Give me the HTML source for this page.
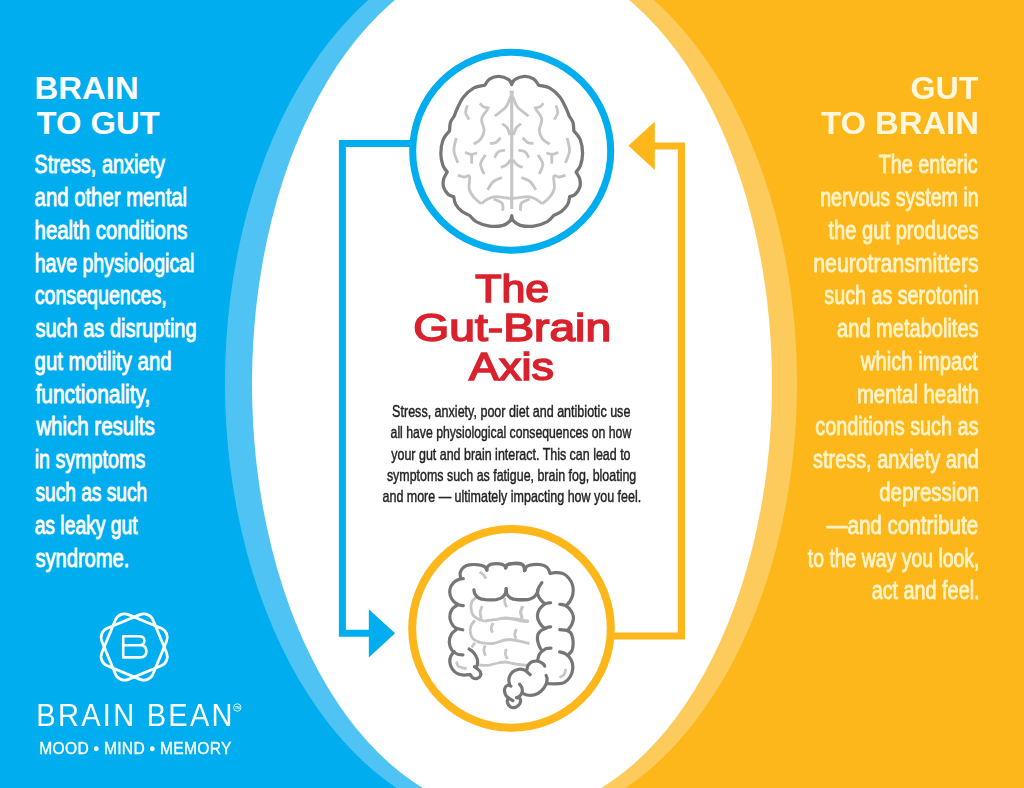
<!DOCTYPE html>
<html>
<head>
<meta charset="utf-8">
<title>The Gut-Brain Axis</title>
<style>
html,body{margin:0;padding:0;background:#fff;}
body{width:1024px;height:788px;overflow:hidden;font-family:"Liberation Sans",sans-serif;}
svg{display:block;}
text{font-family:"Liberation Sans",sans-serif;}
#tleft,#tright,#tcenter,#logo{opacity:.999;}
.lb{fill:#fff;font-size:25.8px;stroke:#fff;stroke-width:.8px;vector-effect:non-scaling-stroke;}
.rb{fill:#FFF3C9;font-size:25.8px;stroke:#FFF3C9;stroke-width:.8px;vector-effect:non-scaling-stroke;}
.cb{fill:#231f20;font-size:15.9px;stroke:#231f20;stroke-width:.4px;vector-effect:non-scaling-stroke;}
.hd{font-weight:bold;font-size:31.8px;}
.hl{fill:#fff;}
.hr{fill:#FFF7DF;}
.tt{font-size:38.6px;fill:#D9222D;stroke:#D9222D;stroke-width:1.6px;stroke-linejoin:miter;}
</style>
</head>
<body>
<svg width="1024" height="788" viewBox="0 0 1024 788">
<!-- BACKGROUND -->
<rect x="0" y="0" width="512" height="788" fill="#00ADEE"/>
<rect x="512" y="0" width="512" height="788" fill="#FDB71A"/>
<clipPath id="cl"><rect x="0" y="0" width="512" height="788"/></clipPath>
<clipPath id="cr"><rect x="512" y="0" width="512" height="788"/></clipPath>
<ellipse cx="511" cy="383" rx="286" ry="442" fill="#4FC4F4" clip-path="url(#cl)"/>
<ellipse cx="511" cy="383" rx="286" ry="442" fill="#FDCB5C" clip-path="url(#cr)"/>
<ellipse cx="512" cy="384" rx="260" ry="430" fill="#fff"/>
<!-- CONNECTORS -->
<g id="connectors">
<path d="M412 143.5 H342.4 V633.2 H370" fill="none" stroke="#00ADEE" stroke-width="7" stroke-linejoin="miter"/>
<path d="M368.8 609.2 L395.1 633.3 L368.8 657.5 Z" fill="#00ADEE"/>
<path d="M612 636 H681.4 V146 H653" fill="none" stroke="#FDB71A" stroke-width="7.2" stroke-linejoin="miter"/>
<path d="M654.8 121.6 L628.4 145.8 L654.8 170.1 Z" fill="#FDB71A"/>
</g>
<!-- CIRCLES -->
<g id="circles">
<circle cx="511.7" cy="151.2" r="99" fill="#fff" stroke="#00ADEE" stroke-width="7"/>
<circle cx="511.5" cy="628.4" r="99.3" fill="#fff" stroke="#FDB71A" stroke-width="8"/>
</g>
<!-- BRAIN -->
<g id="brain" transform="translate(436 70) scale(0.2082)" fill="none" stroke-linecap="round" stroke-linejoin="round">
<path d="M363.6 70.0 C366.0 66.0 367.8 52.5 378.0 46.0 C388.2 39.5 409.7 31.3 425.0 31.0 C440.3 30.7 458.7 37.0 470.0 44.0 C481.3 51.0 489.2 68.2 493.0 73.0 C501.7 75.2 528.0 76.5 545.0 86.0 C562.0 95.5 581.7 113.5 595.0 130.0 C608.3 146.5 617.5 169.7 625.0 185.0 C632.5 200.3 637.5 215.8 640.0 222.0 C643.0 227.0 654.3 240.3 658.0 252.0 C661.7 263.7 661.3 285.3 662.0 292.0 C667.2 299.2 686.0 317.0 693.0 335.0 C700.0 353.0 703.8 379.5 704.0 400.0 C704.2 420.5 699.2 443.0 694.0 458.0 C688.8 473.0 676.5 484.7 673.0 490.0 C675.8 495.3 687.0 510.0 690.0 522.0 C693.0 534.0 694.7 549.3 691.0 562.0 C687.3 574.7 676.2 590.3 668.0 598.0 C659.8 605.7 646.3 606.3 642.0 608.0 C640.5 614.2 639.7 633.0 633.0 645.0 C626.3 657.0 613.2 671.2 602.0 680.0 C590.8 688.8 572.0 695.0 566.0 698.0 C560.8 703.0 551.0 719.3 535.0 728.0 C519.0 736.7 491.7 747.0 470.0 750.0 C448.3 753.0 421.3 750.2 405.0 746.0 C388.7 741.8 378.9 732.7 372.0 725.0 C365.1 717.3 365.0 704.2 363.6 700.0 C362.2 704.2 362.1 717.3 355.2 725.0 C348.3 732.7 338.5 741.8 322.2 746.0 C305.9 750.2 278.9 753.0 257.2 750.0 C235.5 747.0 208.2 736.7 192.2 728.0 C176.2 719.3 166.4 703.0 161.2 698.0 C155.2 695.0 136.4 688.8 125.2 680.0 C114.0 671.2 100.9 657.0 94.2 645.0 C87.5 633.0 86.7 614.2 85.2 608.0 C80.9 606.3 67.4 605.7 59.2 598.0 C51.0 590.3 39.9 574.7 36.2 562.0 C32.5 549.3 34.2 534.0 37.2 522.0 C40.2 510.0 51.4 495.3 54.2 490.0 C50.7 484.7 38.4 473.0 33.2 458.0 C28.0 443.0 23.0 420.5 23.2 400.0 C23.4 379.5 27.2 353.0 34.2 335.0 C41.2 317.0 60.0 299.2 65.2 292.0 C65.9 285.3 65.5 263.7 69.2 252.0 C72.9 240.3 84.2 227.0 87.2 222.0 C89.7 215.8 94.7 200.3 102.2 185.0 C109.7 169.7 118.9 146.5 132.2 130.0 C145.5 113.5 165.2 95.5 182.2 86.0 C199.2 76.5 225.5 75.2 234.2 73.0 C238.0 68.2 245.9 51.0 257.2 44.0 C268.5 37.0 286.9 30.7 302.2 31.0 C317.5 31.3 339.0 39.5 349.2 46.0 C359.4 52.5 361.2 66.0 363.6 70.0 Z" fill="#fff" stroke="#767676" stroke-width="15.5"/>
<g stroke="#c6c6c6" stroke-linecap="butt">
<path d="M363.6 112 V668" stroke-width="15" stroke-linecap="butt"/>
<path d="M352.6 100 L374.6 100 L369.6 150 L357.6 150 Z" fill="#c6c6c6" stroke="none"/>
<path d="M369.0 128.0 C372.8 136.3 379.3 162.5 392.0 178.0 C404.7 193.5 436.2 213.8 445.0 221.0 " stroke-width="13.5"/>
<path d="M358.2 128.0 C354.4 136.3 347.9 162.5 335.2 178.0 C322.5 193.5 291.0 213.8 282.2 221.0 " stroke-width="13.5"/>
<path d="M470.0 182.0 C474.7 181.3 490.3 181.7 498.0 178.0 C505.7 174.3 513.0 163.0 516.0 160.0 " stroke-width="13.5"/>
<path d="M257.2 182.0 C252.5 181.3 236.9 181.7 229.2 178.0 C221.5 174.3 214.2 163.0 211.2 160.0 " stroke-width="13.5"/>
<path d="M478.0 188.0 C483.0 195.8 505.0 218.0 508.0 235.0 C511.0 252.0 495.3 273.8 496.0 290.0 C496.7 306.2 503.7 321.0 512.0 332.0 C520.3 343.0 540.3 352.0 546.0 356.0 " stroke-width="13.5"/>
<path d="M249.2 188.0 C244.2 195.8 222.2 218.0 219.2 235.0 C216.2 252.0 231.9 273.8 231.2 290.0 C230.5 306.2 223.5 321.0 215.2 332.0 C206.9 343.0 186.9 352.0 181.2 356.0 " stroke-width="13.5"/>
<path d="M576.0 170.0 C577.5 175.8 586.3 193.7 585.0 205.0 C583.7 216.3 570.8 232.5 568.0 238.0 " stroke-width="13.5"/>
<path d="M151.2 170.0 C149.7 175.8 140.9 193.7 142.2 205.0 C143.5 216.3 156.4 232.5 159.2 238.0 " stroke-width="13.5"/>
<path d="M409.0 258.0 C405.0 261.3 391.2 269.0 385.0 278.0 C378.8 287.0 374.2 306.3 372.0 312.0 " stroke-width="13.5"/>
<path d="M318.2 258.0 C322.2 261.3 336.0 269.0 342.2 278.0 C348.4 287.0 353.0 306.3 355.2 312.0 " stroke-width="13.5"/>
<path d="M416.0 326.0 C420.0 329.7 431.3 343.5 440.0 348.0 C448.7 352.5 463.3 352.2 468.0 353.0 " stroke-width="13.5"/>
<path d="M311.2 326.0 C307.2 329.7 295.9 343.5 287.2 348.0 C278.5 352.5 263.9 352.2 259.2 353.0 " stroke-width="13.5"/>
<path d="M396.0 385.0 C401.3 386.3 419.7 387.0 428.0 393.0 C436.3 399.0 443.0 416.3 446.0 421.0 " stroke-width="13.5"/>
<path d="M331.2 385.0 C325.9 386.3 307.5 387.0 299.2 393.0 C290.9 399.0 284.2 416.3 281.2 421.0 " stroke-width="13.5"/>
<path d="M370.0 432.0 C373.0 435.8 380.3 449.0 388.0 455.0 C395.7 461.0 411.3 465.8 416.0 468.0 " stroke-width="13.5"/>
<path d="M357.2 432.0 C354.2 435.8 346.9 449.0 339.2 455.0 C331.5 461.0 315.9 465.8 311.2 468.0 " stroke-width="13.5"/>
<path d="M490.0 408.0 C493.8 415.3 512.0 436.7 513.0 452.0 C514.0 467.3 498.8 492.0 496.0 500.0 " stroke-width="13.5"/>
<path d="M237.2 408.0 C233.4 415.3 215.2 436.7 214.2 452.0 C213.2 467.3 228.4 492.0 231.2 500.0 " stroke-width="13.5"/>
<path d="M530.0 398.0 C535.0 399.2 550.3 405.5 560.0 405.0 C569.7 404.5 583.3 396.7 588.0 395.0 " stroke-width="13.5"/>
<path d="M197.2 398.0 C192.2 399.2 176.9 405.5 167.2 405.0 C157.5 404.5 143.9 396.7 139.2 395.0 " stroke-width="13.5"/>
<path d="M556.0 403.0 C556.0 410.8 556.0 442.2 556.0 450.0 " stroke-width="13.5"/>
<path d="M171.2 403.0 C171.2 410.8 171.2 442.2 171.2 450.0 " stroke-width="13.5"/>
<path d="M630.0 326.0 C631.8 336.3 642.3 368.0 641.0 388.0 C639.7 408.0 625.2 436.3 622.0 446.0 " stroke-width="13.5"/>
<path d="M97.2 326.0 C95.4 336.3 84.9 368.0 86.2 388.0 C87.5 408.0 102.0 436.3 105.2 446.0 " stroke-width="13.5"/>
<path d="M410.0 516.0 C417.0 519.3 440.3 526.0 452.0 536.0 C463.7 546.0 475.3 569.3 480.0 576.0 " stroke-width="13.5"/>
<path d="M317.2 516.0 C310.2 519.3 286.9 526.0 275.2 536.0 C263.5 546.0 251.9 569.3 247.2 576.0 " stroke-width="13.5"/>
<path d="M622.0 505.0 C617.0 506.5 601.3 513.0 592.0 514.0 C582.7 515.0 570.0 501.7 566.0 511.0 C562.0 520.3 571.5 553.2 568.0 570.0 C564.5 586.8 554.7 600.0 545.0 612.0 C535.3 624.0 515.8 637.0 510.0 642.0 " stroke-width="13.5"/>
<path d="M105.2 505.0 C110.2 506.5 125.9 513.0 135.2 514.0 C144.5 515.0 157.2 501.7 161.2 511.0 C165.2 520.3 155.7 553.2 159.2 570.0 C162.7 586.8 172.5 600.0 182.2 612.0 C191.9 624.0 211.4 637.0 217.2 642.0 " stroke-width="13.5"/>
<path d="M366.0 618.0 C378.3 616.3 421.3 607.7 440.0 608.0 C458.7 608.3 466.3 614.3 478.0 620.0 C489.7 625.7 504.7 638.3 510.0 642.0 " stroke-width="13.5"/>
<path d="M361.2 618.0 C348.9 616.3 305.9 607.7 287.2 608.0 C268.5 608.3 260.9 614.3 249.2 620.0 C237.5 625.7 222.5 638.3 217.2 642.0 " stroke-width="13.5"/>
<path d="M406.0 676.0 C406.7 670.0 402.7 649.3 410.0 640.0 C417.3 630.7 443.3 623.3 450.0 620.0 " stroke-width="13.5"/>
<path d="M321.2 676.0 C320.5 670.0 324.5 649.3 317.2 640.0 C309.9 630.7 283.9 623.3 277.2 620.0 " stroke-width="13.5"/>
</g></g>
<!-- GUT -->
<g id="gut" fill="none" stroke-linecap="round" stroke-linejoin="round">
<g stroke="#c6c6c6" stroke-width="2.8" stroke-linecap="butt">
<path d="M479.7 572.0 C480.3 572.5 482.5 573.8 483.5 574.9 C484.6 576.0 485.5 578.1 485.9 578.7 "/>
<path d="M475.8 597.5 C475.2 598.2 472.8 599.6 472.0 601.4 C471.2 603.2 470.8 605.9 471.0 608.1 C471.2 610.4 471.8 613.1 472.9 614.9 C474.1 616.7 475.8 617.7 477.8 618.8 C479.7 619.8 483.4 620.8 484.5 621.2 "/>
<path d="M484.5 621.2 C486.1 620.9 490.6 620.2 494.1 619.7 C497.7 619.2 502.2 618.1 505.7 618.0 C509.3 617.9 511.6 618.4 515.4 618.9 C519.1 619.5 525.9 620.8 528.0 621.2 "/>
<path d="M500.0 618.3 C501.9 618.4 507.9 618.3 511.6 618.8 C515.3 619.2 519.3 620.8 522.2 621.2 C525.1 621.6 527.8 621.2 528.9 621.2 "/>
<path d="M482.1 606.2 C481.8 607.2 480.3 609.9 480.2 612.0 C480.0 614.1 481.0 617.6 481.1 618.8 "/>
<path d="M504.8 598.0 C504.8 598.7 504.4 600.8 504.8 602.4 C505.1 603.9 506.4 606.4 506.7 607.2 "/>
<path d="M522.6 606.2 C522.3 607.2 520.7 609.9 520.7 612.0 C520.6 614.1 521.9 617.6 522.1 618.8 "/>
<path d="M522.7 606.2 C522.3 607.2 520.8 609.9 520.7 612.0 C520.7 614.1 521.9 617.6 522.2 618.8 "/>
<path d="M474.9 620.4 C474.3 621.3 471.6 623.9 470.9 626.1 C470.1 628.2 470.0 631.0 470.5 633.2 C470.9 635.4 471.8 637.7 473.5 639.3 C475.2 640.9 479.4 642.2 480.6 642.7 "/>
<path d="M480.6 642.7 C482.6 642.9 488.1 644.1 492.8 643.5 C497.5 643.0 503.0 639.5 509.0 639.5 C515.1 639.5 526.0 642.9 529.4 643.5 "/>
<path d="M493.2 623.0 C492.9 623.8 491.3 626.1 491.2 627.7 C491.0 629.3 492.2 631.8 492.4 632.6 "/>
<path d="M516.4 629.1 C516.1 630.0 514.8 632.6 514.7 634.2 C514.7 635.8 515.8 637.9 516.0 638.7 "/>
<path d="M474.9 642.7 C474.4 643.5 472.2 646.6 471.7 647.4 "/>
<path d="M485.1 645.4 C484.9 646.2 483.8 648.7 483.9 650.5 C483.9 652.2 485.2 654.9 485.5 655.7 "/>
<path d="M506.2 648.8 C506.1 649.7 505.2 652.4 505.4 654.1 C505.6 655.8 507.1 658.2 507.4 659.0 "/>
<path d="M479.2 664.9 C480.6 665.0 484.3 665.7 487.4 665.4 C490.5 665.1 494.9 663.6 498.0 663.0 C501.1 662.4 502.8 661.9 505.7 662.0 C508.6 662.2 511.8 663.4 515.4 664.0 C518.9 664.5 525.0 665.2 526.9 665.4 "/>
<path d="M456.5 661.6 C456.9 662.4 456.8 665.2 458.5 666.4 C460.2 667.6 465.3 668.4 466.7 668.8 "/>
<path d="M565.9 668.8 C565.6 669.8 565.0 673.1 564.0 674.6 C562.9 676.1 560.4 677.1 559.6 677.7 "/>
</g><g stroke="#767676" stroke-width="3.2">
<path d="M460.6 577.8 C460.5 576.9 459.8 574.2 460.2 572.5 C460.7 570.8 461.8 568.9 463.3 567.6 C464.8 566.4 466.5 565.4 469.1 564.9 C471.6 564.5 476.1 564.5 478.7 564.8 C481.3 565.0 483.1 565.8 484.5 566.7 C485.9 567.6 486.5 569.5 486.9 570.1 "/>
<path d="M486.9 570.1 C487.0 569.5 486.9 567.7 487.6 566.7 C488.3 565.7 489.2 564.6 491.3 564.1 C493.3 563.6 497.8 563.5 499.9 563.8 C502.1 564.0 503.3 564.8 504.3 565.5 C505.2 566.2 505.5 567.5 505.7 567.8 "/>
<path d="M505.7 567.8 C506.0 567.3 506.4 565.5 507.6 564.8 C508.9 564.0 511.2 563.7 513.4 563.6 C515.7 563.5 519.4 563.5 521.1 564.0 C522.9 564.5 523.4 565.5 524.0 566.5 C524.7 567.5 525.0 569.5 525.2 570.1 "/>
<path d="M505.5 567.8 C505.8 567.3 505.9 565.3 507.2 564.6 C508.6 563.8 511.3 563.5 513.5 563.3 C515.8 563.1 519.0 563.1 520.7 563.6 C522.4 564.1 523.0 565.0 523.6 566.2 C524.3 567.4 524.4 569.8 524.6 570.5 "/>
<path d="M524.6 570.5 C525.0 569.8 525.6 567.3 527.0 566.3 C528.4 565.3 530.4 564.8 532.8 564.6 C535.2 564.3 539.1 564.2 541.5 564.8 C543.9 565.3 545.8 566.2 547.3 567.6 C548.7 569.1 549.7 572.5 550.1 573.4 "/>
<path d="M550.1 573.4 C550.9 573.3 552.9 572.7 555.0 572.7 C557.1 572.7 560.4 572.5 562.7 573.4 C565.0 574.4 567.3 576.2 568.9 578.3 C570.6 580.3 572.2 583.2 572.8 586.0 C573.4 588.7 573.3 592.1 572.8 594.6 C572.3 597.2 571.0 599.5 569.9 601.4 C568.8 603.2 566.7 605.0 566.1 605.7 "/>
<path d="M559.8 604.3 C560.8 604.5 563.7 604.7 565.6 605.7 C567.4 606.8 569.6 608.6 570.9 610.6 C572.2 612.5 573.3 615.0 573.5 617.3 C573.6 619.6 572.8 622.3 571.8 624.5 C570.8 626.7 568.2 629.5 567.5 630.5 "/>
<path d="M541.9 582.6 C541.4 583.5 539.3 586.0 538.6 587.9 C537.8 589.7 537.3 591.8 537.6 593.7 C537.9 595.6 539.3 597.8 540.5 599.5 C541.7 601.1 543.6 602.9 544.8 603.5 C546.0 604.1 546.8 603.1 547.7 603.0 C548.7 602.9 550.1 602.9 550.6 602.8 "/>
<path d="M544.6 604.1 C543.7 604.9 540.7 607.1 539.5 609.1 C538.3 611.1 537.4 613.6 537.4 615.9 C537.4 618.1 538.4 620.6 539.5 622.6 C540.7 624.6 543.0 627.2 544.4 628.0 C545.7 628.8 546.7 627.4 547.7 627.2 C548.8 627.1 550.1 627.0 550.6 626.9 "/>
<path d="M473.9 589.8 C474.1 590.5 474.1 592.5 474.9 593.9 C475.7 595.2 476.9 597.1 478.7 598.0 C480.5 599.0 482.6 599.4 485.5 599.7 C488.4 599.9 493.3 600.0 496.1 599.7 C498.8 599.3 500.3 598.5 501.9 597.5 C503.4 596.5 504.5 595.2 505.2 593.7 C506.0 592.2 506.0 589.5 506.2 588.7 "/>
<path d="M506.2 588.7 C506.3 589.5 506.2 592.3 506.9 593.9 C507.6 595.4 508.8 597.1 510.5 598.0 C512.3 599.0 514.4 599.4 517.3 599.7 C520.2 599.9 526.2 599.7 528.0 599.7 "/>
<path d="M517.4 599.7 C519.1 599.6 525.2 599.9 528.0 599.5 C530.7 599.0 532.2 598.1 533.8 597.1 C535.3 596.0 536.4 594.1 537.1 592.9 C537.8 591.7 537.8 590.3 537.9 589.8 "/>
<path d="M463.3 578.7 C462.6 578.8 461.0 578.6 459.4 579.2 C457.8 579.9 455.2 581.0 453.6 582.6 C452.1 584.2 450.5 586.7 450.0 588.9 C449.4 591.0 449.7 593.5 450.3 595.6 C450.9 597.7 452.3 599.9 453.6 601.4 C455.0 602.9 456.9 604.0 458.5 604.8 C460.1 605.5 462.5 605.6 463.3 605.7 "/>
<path d="M457.0 605.3 C456.2 605.9 453.4 607.3 452.2 609.1 C451.0 610.9 449.9 613.6 449.8 615.9 C449.6 618.1 450.3 620.6 451.2 622.6 C452.2 624.6 453.6 626.7 455.6 627.9 C457.5 629.1 461.6 629.5 462.8 629.8 "/>
<path d="M456.2 629.7 C455.4 630.5 452.3 632.5 451.2 634.6 C450.0 636.7 449.2 639.8 449.3 642.3 C449.4 644.9 450.5 648.1 451.8 650.0 C453.1 652.0 455.4 653.3 457.3 654.1 C459.1 654.9 462.0 654.8 462.9 654.9 "/>
<path d="M454.1 651.4 C453.6 652.2 451.5 654.5 450.8 656.3 C450.0 658.0 449.5 659.9 449.8 662.0 C450.0 664.1 450.9 666.9 452.2 668.8 C453.5 670.7 455.5 672.6 457.5 673.6 C459.5 674.7 462.2 674.9 464.3 675.1 C466.3 675.2 469.1 674.7 470.0 674.6 "/>
<path d="M470.0 674.6 C470.5 675.1 471.7 677.3 472.9 677.9 C474.1 678.6 476.0 678.8 477.3 678.4 C478.6 678.0 480.2 676.7 480.6 675.5 C481.1 674.4 480.7 672.8 480.2 671.7 C479.6 670.6 478.2 669.6 477.3 668.8 C476.3 668.0 474.9 667.0 474.4 666.7 "/>
<path d="M469.1 649.0 C469.9 649.7 472.5 651.2 473.9 652.9 C475.3 654.6 476.7 657.1 477.3 659.1 C477.8 661.2 477.5 663.6 477.3 664.9 C477.0 666.3 476.1 666.9 475.8 667.3 "/>
<path d="M559.8 629.7 C561.0 629.9 565.1 630.0 566.9 630.5 C568.8 631.1 570.0 631.8 571.0 633.2 C572.0 634.6 572.4 637.0 572.8 638.9 C573.1 640.8 573.3 642.8 573.1 644.7 C573.0 646.6 572.8 648.8 572.0 650.5 C571.2 652.2 568.9 654.1 568.3 654.8 "/>
<path d="M546.4 628.1 C545.4 628.6 541.8 629.8 540.3 631.2 C538.8 632.5 537.8 633.9 537.5 636.0 C537.1 638.1 537.6 641.3 538.4 643.7 C539.2 646.1 541.0 649.7 542.3 650.5 C543.6 651.3 544.7 648.9 546.1 648.5 C547.6 648.1 550.2 648.1 551.0 648.1 "/>
<path d="M559.6 651.9 C560.6 652.2 563.5 652.5 565.4 653.8 C567.4 655.2 570.0 657.8 571.2 660.1 C572.5 662.4 573.0 665.1 572.9 667.8 C572.7 670.6 571.7 674.1 570.3 676.5 C568.9 678.9 566.4 681.1 564.5 682.3 C562.5 683.5 561.5 683.5 558.7 683.7 C555.9 684.0 549.4 683.7 547.6 683.7 "/>
<path d="M542.5 650.7 C541.9 651.3 540.0 653.3 539.2 654.8 C538.4 656.3 537.9 659.1 537.7 659.9 "/>
<path d="M526.9 669.8 C527.1 668.9 527.3 666.3 528.3 664.9 C529.3 663.6 531.0 662.2 532.6 661.6 C534.3 660.9 536.7 660.9 538.4 661.3 C540.2 661.7 542.2 663.2 543.3 664.0 C544.3 664.8 544.5 665.7 544.7 666.1 "/>
<path d="M509.5 684.2 C509.4 683.3 508.5 680.4 509.0 678.4 C509.5 676.4 510.8 673.7 512.4 672.2 C514.0 670.6 516.6 669.6 518.7 669.3 C520.8 668.9 523.3 669.6 524.9 670.2 C526.5 670.9 527.4 672.4 528.3 673.1 C529.2 673.8 529.9 674.3 530.2 674.6 "/>
<path d="M510.9 686.1 C510.4 686.0 508.6 684.8 507.6 685.2 C506.5 685.6 505.1 687.1 504.7 688.6 C504.3 690.0 504.6 692.3 505.2 693.9 C505.7 695.4 506.8 696.6 508.1 697.7 C509.3 698.8 512.1 700.1 512.9 700.6 "/>
<path d="M508.1 697.7 C507.9 698.5 507.0 701.0 507.4 702.5 C507.8 704.1 509.1 706.1 510.5 706.9 C511.8 707.7 513.8 707.8 515.3 707.4 C516.8 706.9 518.8 705.4 519.6 704.0 C520.4 702.5 520.6 699.7 520.1 698.7 C519.6 697.6 517.3 697.9 516.7 697.7 "/>
<path d="M519.6 684.2 C520.0 684.9 521.6 686.6 522.0 688.1 C522.4 689.5 522.4 691.5 522.0 692.9 C521.6 694.3 520.5 695.5 519.6 696.3 C518.7 697.1 517.2 697.5 516.7 697.7 "/>
<path d="M522.0 692.9 C522.8 693.2 524.8 694.7 526.9 695.0 C528.9 695.3 532.2 695.5 534.6 694.8 C537.0 694.1 539.4 692.7 541.3 691.0 C543.3 689.2 545.2 686.3 546.1 684.2 C547.1 682.1 547.1 679.9 547.1 678.4 C547.1 677.0 546.3 676.0 546.1 675.5 "/>
</g></g>
<!-- TEXT-LEFT -->
<g id="tleft">
<text class="lb" transform="translate(34.33 173.40) scale(0.7731 1)">Stress, anxiety</text>
<text class="lb" transform="translate(34.61 206.16) scale(0.7880 1)">and other mental</text>
<text class="lb" transform="translate(34.61 238.92) scale(0.7897 1)">health conditions</text>
<text class="lb" transform="translate(34.64 271.68) scale(0.7584 1)">have physiological</text>
<text class="lb" transform="translate(34.64 304.44) scale(0.7619 1)">consequences,</text>
<text class="lb" transform="translate(35.40 337.20) scale(0.7755 1)">such as disrupting</text>
<text class="lb" transform="translate(34.61 369.96) scale(0.7894 1)">gut motility and</text>
<text class="lb" transform="translate(35.40 402.72) scale(0.8126 1)">functionality,</text>
<text class="lb" transform="translate(36.20 435.48) scale(0.7956 1)">which results</text>
<text class="lb" transform="translate(34.64 468.24) scale(0.7650 1)">in symptoms</text>
<text class="lb" transform="translate(35.40 501.00) scale(0.7432 1)">such as such</text>
<text class="lb" transform="translate(34.65 533.76) scale(0.7480 1)">as leaky gut</text>
<text class="lb" transform="translate(35.40 566.52) scale(0.7805 1)">syndrome.</text>
<text class="hd hl" transform="translate(34.53 98.50) scale(1.0349 1)">BRAIN</text>
<text class="hd hl" transform="translate(36.60 133.70) scale(1.0307 1)">TO GUT</text>
</g>
<!-- TEXT-RIGHT -->
<g id="tright">
<text class="rb" transform="translate(878.60 173.40) scale(0.7689 1)">The enteric</text>
<text class="rb" transform="translate(820.14 206.16) scale(0.7638 1)">nervous system in</text>
<text class="rb" transform="translate(828.40 238.92) scale(0.7816 1)">the gut produces</text>
<text class="rb" transform="translate(813.28 271.68) scale(0.8239 1)">neurotransmitters</text>
<text class="rb" transform="translate(824.30 304.44) scale(0.7648 1)">such as serotonin</text>
<text class="rb" transform="translate(837.12 337.20) scale(0.7768 1)">and metabolites</text>
<text class="rb" transform="translate(860.79 369.96) scale(0.7863 1)">which impact</text>
<text class="rb" transform="translate(856.91 402.72) scale(0.7880 1)">mental health</text>
<text class="rb" transform="translate(815.23 435.48) scale(0.7697 1)">conditions such as</text>
<text class="rb" transform="translate(813.10 468.24) scale(0.7711 1)">stress, anxiety and</text>
<text class="rb" transform="translate(879.21 501.00) scale(0.7904 1)">depression</text>
<text class="rb" transform="translate(826.80 533.76) scale(0.7997 1)">—and contribute</text>
<text class="rb" transform="translate(807.80 566.52) scale(0.7532 1)">to the way you look,</text>
<text class="rb" transform="translate(871.63 599.28) scale(0.7679 1)">act and feel.</text>
<text class="hd hr" transform="translate(910.39 98.50) scale(1.0121 1)">GUT</text>
<text class="hd hr" transform="translate(821.10 133.70) scale(1.0309 1)">TO BRAIN</text>
</g>
<!-- TEXT-CENTER -->
<g id="tcenter">
<text class="cb" transform="translate(392.10 417.30) scale(0.7898 1)">Stress, anxiety, poor diet and antibiotic use</text>
<text class="cb" transform="translate(390.60 438.40) scale(0.7700 1)">all have physiological consequences on how</text>
<text class="cb" transform="translate(391.30 459.50) scale(0.7842 1)">your gut and brain interact. This can lead to</text>
<text class="cb" transform="translate(386.90 480.60) scale(0.7817 1)">symptoms such as fatigue, brain fog, bloating</text>
<text class="cb" transform="translate(382.50 501.70) scale(0.7856 1)">and more — ultimately impacting how you feel.</text>
<text class="tt" transform="translate(475.20 302.00) scale(1.1120 1)">The</text>
<text class="tt" transform="translate(413.20 340.80) scale(1.1984 1)">Gut-Brain</text>
<text class="tt" transform="translate(469.10 379.70) scale(1.1622 1)">Axis</text>
</g>
<!-- LOGO -->
<g id="logo">
<g fill="none" stroke="#fff" stroke-width="2.8">
<rect x="-27.7" y="-27.7" width="55.4" height="55.4" rx="10" ry="10" transform="translate(134.2 647) rotate(22.5)"/>
<rect x="-27.7" y="-27.7" width="55.4" height="55.4" rx="10" ry="10" transform="translate(134.2 647) rotate(-22.5)"/>
<path d="M123.2 636.3 V657.4 H140.2 Q146.4 657.4 146.4 651.3 Q146.4 645.3 140.2 645.3 H123.2 M139 645.3 Q144.4 645.3 144.4 640.8 Q144.4 636.3 139 636.3 H123.2" stroke-width="2.6" stroke-linejoin="round" stroke-linecap="round"/>
</g>
<text id="bb" fill="#fff" font-size="31.6" letter-spacing="2.434" transform="translate(36.36 725.7) scale(0.920 1)">BRAIN BEAN</text>
<circle cx="237.3" cy="707.5" r="3.7" fill="none" stroke="#fff" stroke-width=".9"/>
<text x="237.3" y="708.6" text-anchor="middle" font-size="3.3" font-weight="bold" fill="#fff">TM</text>
<text id="mm" fill="#fff" stroke="#fff" stroke-width="0.35" font-size="15.6" letter-spacing="0.290" transform="translate(39.30 754.1) scale(1.000 1)">MOOD • MIND • MEMORY</text>
</g>
</svg>
</body>
</html>
